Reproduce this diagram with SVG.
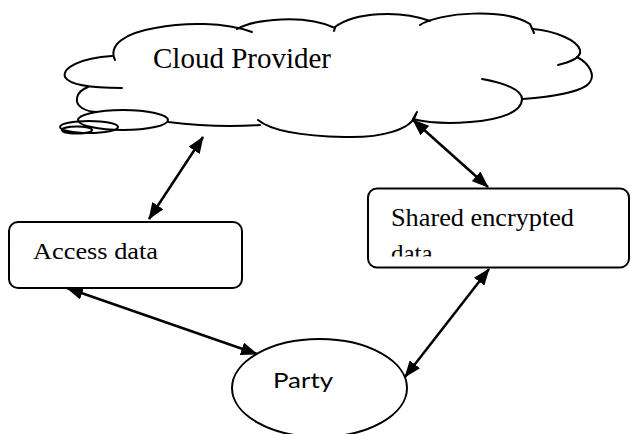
<svg xmlns="http://www.w3.org/2000/svg" width="631" height="434" viewBox="0 0 631 434">
<style>
.ln{fill:none;stroke:#000;stroke-width:2;stroke-linecap:round}
.box{fill:#fff;stroke:#000;stroke-width:2}
.serif{font-family:"Liberation Serif","Times New Roman",serif;fill:#000}
.sans{font-family:Lato,"Liberation Sans",Arial,sans-serif;fill:#000}
.con{fill:none;stroke:#000;stroke-width:2.5;marker-start:url(#ah);marker-end:url(#ah)}
</style>
<defs>
<marker id="ah" viewBox="0 0 17 13" refX="16" refY="6.5" markerWidth="17" markerHeight="13" orient="auto-start-reverse" markerUnits="userSpaceOnUse"><path d="M0,0 L17,6.5 L0,13 z" fill="#000"/></marker>
<clipPath id="clipShared"><rect x="368" y="188" width="262" height="68.5"/></clipPath>
</defs>
<rect width="631" height="434" fill="#fff"/>
<g id="cloud">
<path class="ln" d="M122,88 C95,88 70,86 65,77 C62,68 80,58 112,56"/>
<path class="ln" d="M115,60 C108,45 125,33 155,28 C185,22 225,22 252,32"/>
<path class="ln" d="M237,29 C255,19 305,14 335,28 L334,31"/>
<path class="ln" d="M335,27 C355,12 400,10 430,21"/>
<path class="ln" d="M420,25 C440,12 505,8 530,24 L534,33"/>
<path class="ln" d="M533,29 C555,31 577,40 580,50 C582,58 570,62 558,65"/>
<path class="ln" d="M577,57 C590,64 595,75 590,82 C584,92 550,97 523,99"/>
<path class="ln" d="M482,79 C505,83 522,90 522,99 C522,112 500,120 470,122 C445,124 425,122 413,119 L417,112"/>
<path class="ln" d="M416,114 C412,130 380,138 345,137 C300,136 270,130 258,120"/>
<path class="ln" d="M168,122 C200,126 230,127 260,125"/>
<path class="ln" d="M88,87 C75,92 74,103 82,108 C87,111 92,112 97,112"/>
<ellipse class="ln" cx="123" cy="120" rx="45" ry="10"/>
<ellipse class="ln" cx="89" cy="127" rx="29" ry="6"/>
<ellipse class="ln" cx="77" cy="130" rx="15" ry="3.5"/>
<text class="serif" x="153" y="67.5" font-size="30" textLength="178" lengthAdjust="spacingAndGlyphs">Cloud Provider</text>
</g>
<g id="access">
<rect class="box" x="9" y="222" width="233" height="66" rx="9"/>
<text class="serif" x="33" y="259" font-size="23" textLength="125" lengthAdjust="spacingAndGlyphs">Access data</text>
</g>
<g id="shared">
<rect class="box" x="368" y="188.5" width="261" height="79" rx="9"/>
<text class="serif" x="391" y="226" font-size="25" textLength="183" lengthAdjust="spacingAndGlyphs">Shared encrypted</text>
<text class="serif" x="391" y="262" font-size="25" clip-path="url(#clipShared)">data</text>
</g>
<g id="party">
<ellipse class="box" cx="319.5" cy="388" rx="87.5" ry="49"/>
<text class="sans" x="273" y="388" font-size="22" textLength="60" lengthAdjust="spacingAndGlyphs">Party</text>
</g>
<g id="connectors">
<line class="con" x1="149" y1="219" x2="203" y2="137"/>
<line class="con" x1="413" y1="120" x2="488" y2="187"/>
<line class="con" x1="67" y1="288" x2="257" y2="354"/>
<line class="con" x1="489" y1="269" x2="405" y2="377"/>
</g>
</svg>
